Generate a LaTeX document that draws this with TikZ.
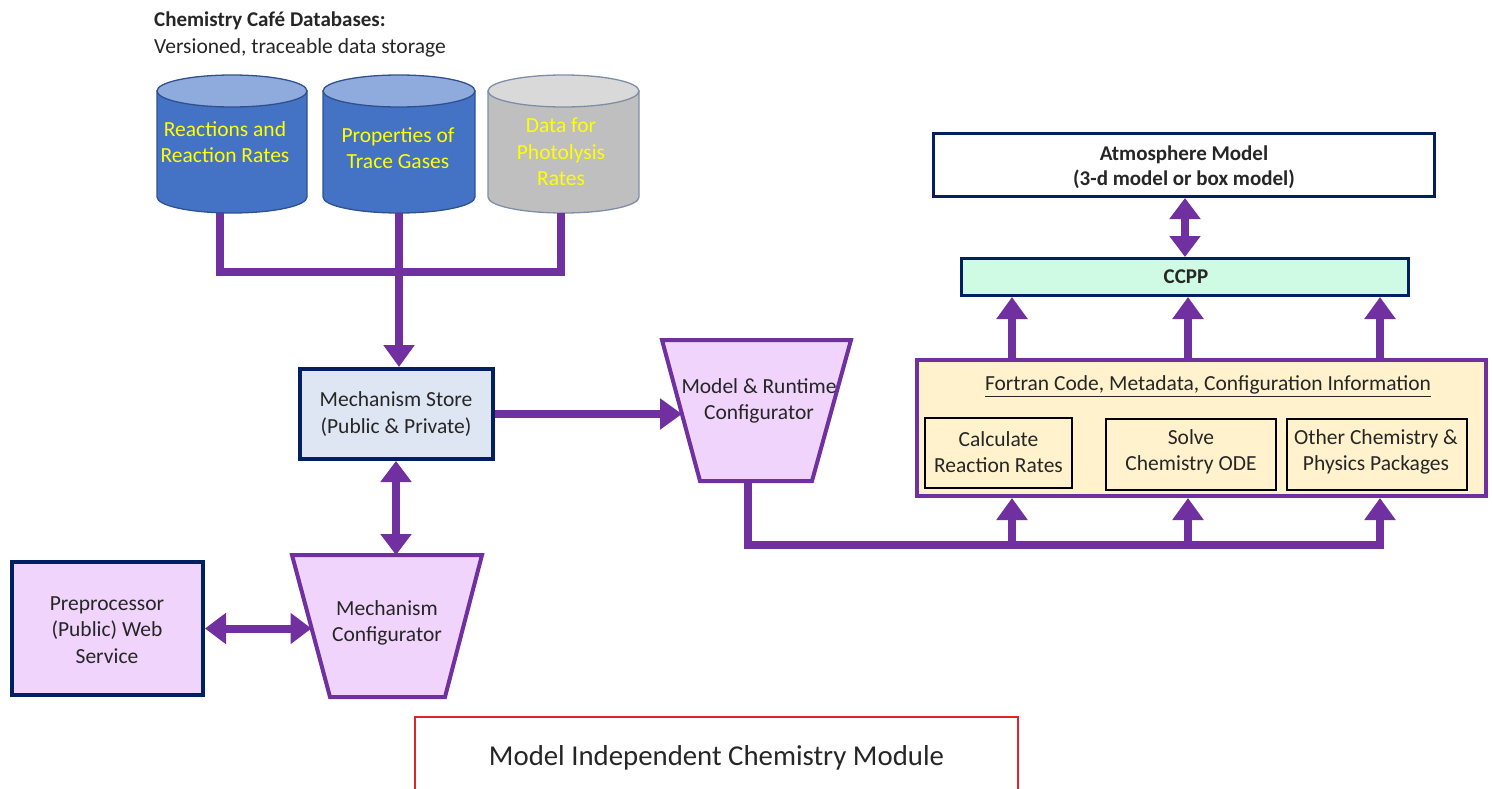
\documentclass[tikz,border=0pt]{standalone}
\usepackage{fontspec}
\setmainfont{Carlito}
\usetikzlibrary{arrows.meta,calc}
\definecolor{purp}{HTML}{7030A0}
\definecolor{navy}{HTML}{002060}
\definecolor{lilac}{HTML}{F0D4FC}
\definecolor{msfill}{HTML}{DEE5F3}
\definecolor{ffill}{HTML}{FFF2CC}
\definecolor{ccfill}{HTML}{CFFBE4}
\definecolor{dbblue}{HTML}{4472C4}
\definecolor{dbtop}{HTML}{8FAADC}
\definecolor{dbline}{HTML}{2F528F}
\definecolor{dbgray}{HTML}{BFBFBF}
\definecolor{dbgraytop}{HTML}{D9D9D9}
\definecolor{dbgrayline}{HTML}{7F8EA8}
\definecolor{txtgray}{HTML}{262626}
\definecolor{redbox}{HTML}{E0242B}
\definecolor{ylw}{HTML}{FFFF00}
\tikzset{
  txt/.style={font=\fontsize{21.5}{26.5}\selectfont, align=center, text=txtgray, inner sep=0pt},
  ytxt/.style={font=\fontsize{21.5}{26.5}\selectfont, align=center, text=ylw, inner sep=0pt},
  navybox/.style={draw=navy, line width=4pt, inner sep=0pt},
  thinbox/.style={draw=black, line width=1.4pt, fill=ffill, inner sep=0pt},
  trapshape/.style={draw=purp, line width=4pt, fill=lilac, line join=miter},
  conn/.style={draw=purp, line width=8pt, line join=miter},
  arr/.style={conn, -{Triangle[length=22pt,width=30pt]}},
  darr/.style={conn, {Triangle[length=21pt,width=30pt]}-{Triangle[length=21pt,width=30pt]}},
}
\begin{document}
\begin{tikzpicture}[x=1pt,y=-1pt]
\useasboundingbox (0,0) rectangle (1492,789);

% title
\node[txt, anchor=west, font=\fontsize{21}{24}\selectfont\bfseries] (title) at (154,21) {Chemistry Café Databases:};
\node[txt, anchor=west] (subtitle) at (154,48) {Versioned, traceable data storage};

% cylinders
\foreach \xa/\xb/\bc/\tc/\lc in {157/307/dbblue/dbtop/dbline, 323/475/dbblue/dbtop/dbline, 488/639/dbgray/dbgraytop/dbgrayline}{
  \pgfmathsetmacro\rx{(\xb-\xa)/2}
  \pgfmathsetmacro\cx{(\xb+\xa)/2}
  \draw[fill=\bc, draw=\lc, line width=1.3pt] (\xa,91) -- (\xa,197) arc[start angle=180, end angle=360, x radius=\rx pt, y radius=16pt] -- (\xb,91) -- cycle;
  \draw[fill=\tc, draw=\lc, line width=1.3pt] (\cx,91) ellipse [x radius=\rx pt, y radius=16pt];
}
\node[minimum width=150pt, minimum height=138pt, inner sep=0pt] (db1) at (232,144) {};
\node[minimum width=152pt, minimum height=138pt, inner sep=0pt] (db2) at (399,144) {};
\node[minimum width=151pt, minimum height=138pt, inner sep=0pt] (db3) at (563.5,144) {};
\node[ytxt] (db1t) at (225,142) {Reactions and\\Reaction Rates};
\node[ytxt] (db2t) at (398,148) {Properties of\\Trace Gases};
\node[ytxt] (db3t) at (561,152) {Data for\\Photolysis\\Rates};

% mechanism store
\node[navybox, fill=msfill, minimum width=193pt, minimum height=90pt] (ms) at (396,414) {};
\node[txt] (mst) at (396,414) {Mechanism Store\\(Public \& Private)};

% trapezia
\draw[trapshape] (662,340) -- (851,340) -- (812,481) -- (700,481) -- cycle;
\coordinate (mrcL) at (682,414);
\coordinate (mrcB) at (748,481);
\node[txt] (mrct) at (759,401) {Model \& Runtime\\Configurator};
\draw[trapshape] (292,555) -- (482,555) -- (445,697) -- (330,697) -- cycle;
\coordinate (mcT) at (396,555);
\coordinate (mcL) at (311.5,628.5);
\node[txt] (mct) at (387,623) {Mechanism\\Configurator};

% preprocessor
\node[navybox, fill=lilac, minimum width=191pt, minimum height=133pt] (pre) at (107.5,628.5) {};
\node[txt] (pret) at (107,630) {Preprocessor\\(Public) Web\\Service};

% right side
\node[navybox, line width=3pt, fill=white, minimum width=501pt, minimum height=63pt] (atm) at (1184,165) {};
\node[txt, font=\fontsize{21}{25}\selectfont\bfseries] (atmt) at (1184,167) {Atmosphere Model\\(3-d model or box model)};
\node[navybox, line width=3pt, fill=ccfill, minimum width=447pt, minimum height=37pt] (ccpp) at (1185,277) {};
\node[txt, font=\fontsize{21}{24}\selectfont\bfseries] (ccppt) at (1186,277) {CCPP};

\node[draw=purp, line width=4pt, fill=ffill, inner sep=0pt, minimum width=569pt, minimum height=136pt] (fortran) at (1201.5,428) {};
\node[txt] (ft) at (1208,386) {\underline{Fortran Code, Metadata, Configuration Information}};
\node[thinbox, minimum width=147pt, minimum height=70pt] (calc) at (998.5,453) {};
\node[txt] (calct) at (998.5,452) {Calculate\\Reaction Rates};
\node[thinbox, minimum width=170pt, minimum height=71pt] (solve) at (1191,454.5) {};
\node[txt] (solvet) at (1191,452) {Solve\\Chemistry ODE};
\node[thinbox, minimum width=180pt, minimum height=71pt] (other) at (1377,454.5) {};
\node[txt] (othert) at (1376,452) {Other Chemistry \&\\Physics Packages};

% bottom label
\node[draw=redbox, line width=2pt, minimum width=603pt, minimum height=82pt, inner sep=0pt,
  font=\fontsize{28.8}{31}\selectfont, text=txtgray] (mod) at (716.5,758) {Model Independent Chemistry Module};

% connectors
\coordinate (j) at (399,272);
\draw[conn] ([xshift=-12pt]db1.south) |- (j) -| ([xshift=-3pt]db3.south);
\draw[arr] (db2.south) -- (db2.south |- ms.north);
\draw[arr] (ms.east) -- (ms.east -| mrcL);
\draw[darr] (ms.south) -- (ms.south |- mcT);
\draw[darr] (pre.east) -- (pre.east -| mcL);

\coordinate (b1) at (1012,545);
\coordinate (b2) at (1188,545);
\coordinate (b3) at (1380,545);
\draw[arr] (mrcB) |- (b3) -- (b3 |- fortran.south);
\draw[arr] (b1) -- (b1 |- fortran.south);
\draw[arr] (b2) -- (b2 |- fortran.south);
\foreach \b in {b1,b2,b3}{
  \draw[arr] (\b |- fortran.north) -- (\b |- ccpp.south);
}
\draw[darr] (ccpp.north) -- (ccpp.north |- atm.south);
\end{tikzpicture}
\end{document}
